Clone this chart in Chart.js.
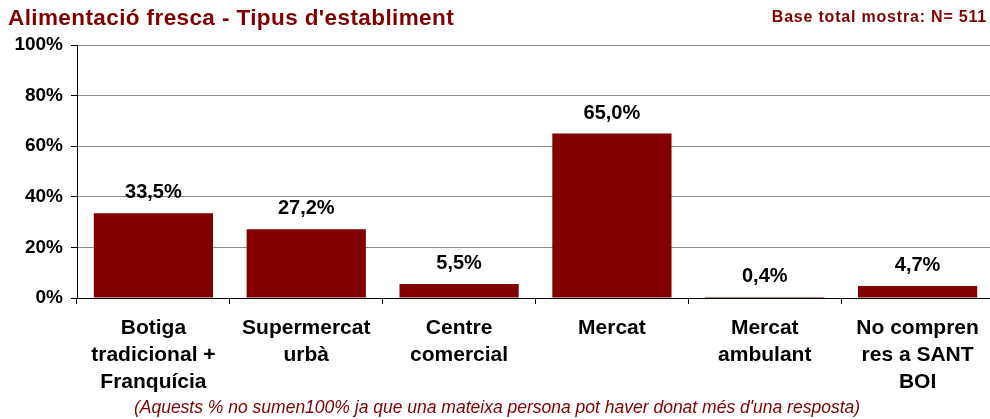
<!DOCTYPE html>
<html>
<head>
<meta charset="utf-8">
<script src="https://cdn.jsdelivr.net/npm/chart.js@4/dist/chart.umd.min.js"></script>
<style>
  html, body { margin: 0; padding: 0; background: #fff; overflow: hidden; }
  body { width: 990px; height: 419px; position: relative; font-family: "Liberation Sans", Arial, sans-serif; }
  #title { position: absolute; left: 8px; top: 5px; font-size: 22.5px; font-weight: bold; color: #800000; letter-spacing: 0.4px; white-space: nowrap; }
  #base { position: absolute; right: 3px; top: 8px; font-size: 16px; font-weight: bold; color: #800000; letter-spacing: 0.8px; white-space: nowrap; }
  #note { position: absolute; left: 2px; width: 990px; top: 397px; text-align: center; font-size: 17.5px; font-style: italic; color: #800000; white-space: nowrap; }
  #wrap { position: absolute; left: 0; top: 0; width: 994px; height: 419px; }
</style>
</head>
<body>
<div id="wrap"><canvas id="chart"></canvas></div>
<div id="title">Alimentació fresca - Tipus d'establiment</div>
<div id="base">Base total mostra: N= 511</div>
<div id="note">(Aquests % no sumen100% ja que una mateixa persona pot haver donat més d'una resposta)</div>

<script>
// categories (multi-line as in the original)
const categories = [
  ["Botiga", "tradicional +", "Franquícia"],
  ["Supermercat", "urbà"],
  ["Centre", "comercial"],
  ["Mercat"],
  ["Mercat", "ambulant"],
  ["No compren", "res a SANT", "BOI"]
];
const values = [33.5, 27.2, 5.5, 65.0, 0.4, 4.7];
const yTicks = [0, 20, 40, 60, 80, 100];

const barColor = "#800000";

/* value labels above each bar */
const valueLabels = {
  id: "valueLabels",
  afterDatasetsDraw(chart) {
    const ctx = chart.ctx;
    const meta = chart.getDatasetMeta(0);
    ctx.save();
    ctx.font = "bold 20px 'Liberation Sans', Arial, sans-serif";
    ctx.fillStyle = "#000";
    ctx.textAlign = "center";
    ctx.textBaseline = "alphabetic";
    meta.data.forEach((bar, i) => {
      const txt = values[i].toFixed(1).replace(".", ",") + "%";
      ctx.fillText(txt, bar.x, bar.y - 15);
    });
    ctx.restore();
  }
};

new Chart(document.getElementById("chart"), {
  type: "bar",
  data: {
    labels: categories,
    datasets: [{
      data: values,
      backgroundColor: barColor,
      borderWidth: 0,
      barPercentage: 0.78,
      categoryPercentage: 1.0
    }]
  },
  options: {
    responsive: true,
    maintainAspectRatio: false,
    animation: false,
    layout: { padding: { top: 45, right: 0, bottom: 0, left: 0 } },
    plugins: {
      legend: { display: false },
      tooltip: { enabled: false },
      title: { display: false }
    },
    scales: {
      x: {
        offset: true,
        grid: {
          offset: true,
          drawOnChartArea: false,
          tickLength: 6,
          tickColor: "#000",
          lineWidth: 1
        },
        border: { display: true, color: "#000", width: 1 },
        ticks: {
          color: "#000",
          padding: 11,
          maxRotation: 0,
          autoSkip: false,
          font: { family: "'Liberation Sans', Arial, sans-serif", size: 21, weight: "bold", lineHeight: 1.28 }
        },
        afterFit: s => { s.height = 121; }
      },
      y: {
        min: 0,
        max: 100,
        afterBuildTicks: s => { s.ticks = yTicks.map(v => ({ value: v })); },
        grid: {
          color: "#8c8c8c",
          lineWidth: 1,
          tickLength: 6,
          tickColor: "#000"
        },
        border: { display: true, color: "#000", width: 1 },
        ticks: {
          color: "#000",
          padding: 8,
          callback: v => v + "%",
          font: { family: "'Liberation Sans', Arial, sans-serif", size: 19, weight: "bold" }
        },
        afterFit: s => { s.width = 77; }
      }
    }
  },
  plugins: [valueLabels]
});
</script>
</body>
</html>
